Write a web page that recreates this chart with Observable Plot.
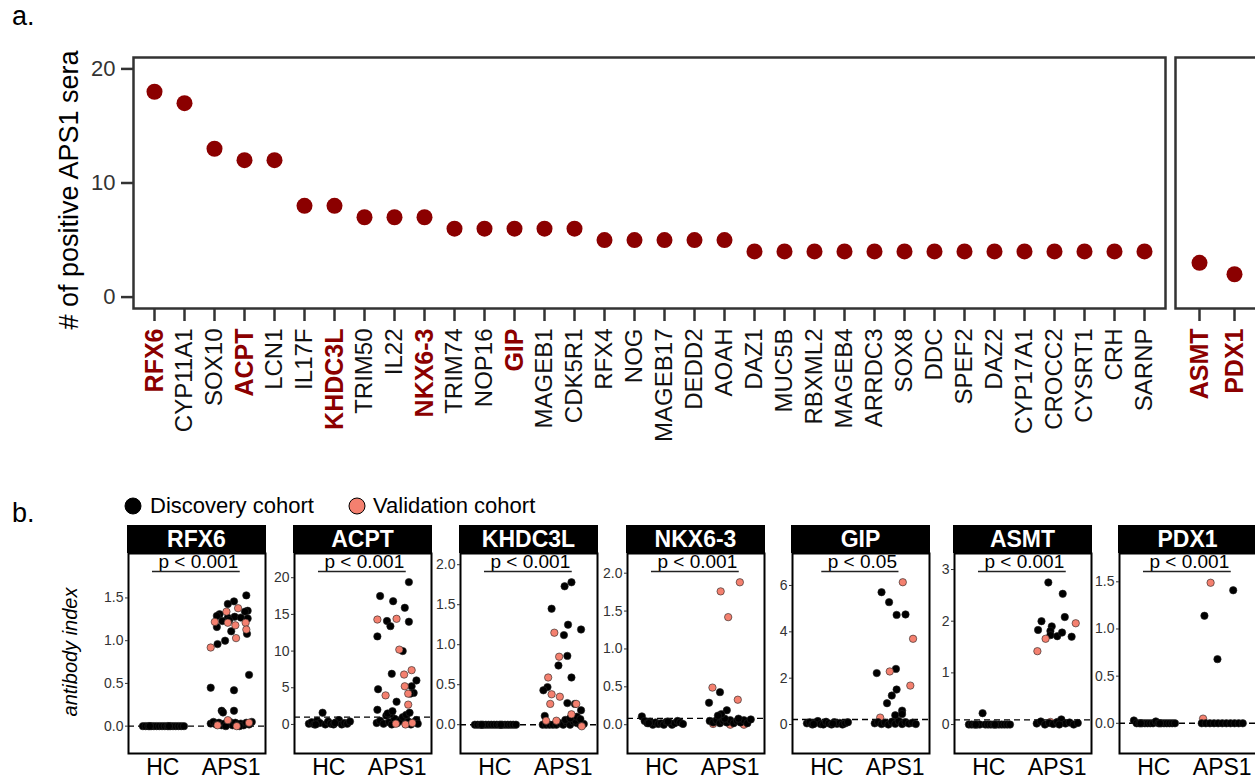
<!DOCTYPE html>
<html><head><meta charset="utf-8">
<script src="https://cdn.jsdelivr.net/npm/d3@7"></script>
<script src="https://cdn.jsdelivr.net/npm/@observablehq/plot@0.6"></script>
<style>
html,body{margin:0;padding:0;background:#fff;}
body{width:1255px;height:782px;overflow:hidden;position:relative;font-family:"Liberation Sans",Arial,sans-serif;}
#root{position:absolute;left:0;top:0;width:1400px;height:782px;}
.abs{position:absolute;white-space:nowrap;}
</style></head><body>
<div id="root"></div>
<script>
// ---------- Panel a data ----------
const mainGenes = ["RFX6","CYP11A1","SOX10","ACPT","LCN1","IL17F","KHDC3L","TRIM50","IL22","NKX6-3","TRIM74","NOP16","GIP","MAGEB1","CDK5R1","RFX4","NOG","MAGEB17","DEDD2","AOAH","DAZ1","MUC5B","RBXML2","MAGEB4","ARRDC3","SOX8","DDC","SPEF2","DAZ2","CYP17A1","CROCC2","CYSRT1","CRH","SARNP"];
const mainCounts = [18,17,13,12,12,8,8,7,7,7,6,6,6,6,6,5,5,5,5,5,4,4,4,4,4,4,4,4,4,4,4,4,4,4];
const sideGenes = ["ASMT","PDX1"];
const sideCounts = [3,2];
const highlighted = ["RFX6","ACPT","KHDC3L","NKX6-3","GIP","ASMT","PDX1"];
const countTicks = [0,10,20];

// ---------- Panel b data ----------
const panelGenes = ["RFX6","ACPT","KHDC3L","NKX6-3","GIP","ASMT","PDX1"];
const pLabels = ["p < 0.001","p < 0.001","p < 0.001","p < 0.001","p < 0.05","p < 0.001","p < 0.001"];
const cutoffs = [0, 1.0, 0, 0.083, 0.22, 0.09, 0.0];
const yTicks = [[0,0.5,1,1.5],[0,5,10,15,20],[0,0.5,1,1.5,2],[0,0.5,1,1.5,2],[0,2,4,6],[0,1,2,3],[0,0.5,1,1.5]];
const yLimits = [[-0.32,2.02],[-3.96,23.3],[-0.36,2.14],[-0.38,2.26],[-1.25,7.38],[-0.56,3.31],[-0.32,1.8]];
const groups = ["HC","APS1"];
const cohorts = ["Discovery cohort","Validation cohort"];

// HC jitter offsets and per-panel HC values
const hcJitter = [-0.29,-0.25,-0.21,-0.17,-0.13,-0.09,-0.05,-0.01,0.03,0.07,0.11,0.15,0.19,0.23,0.27,0.31,-0.19,0.09];
const hcValues = [
  [0,0,0,0,0,0,0,0,0,0,0,0,0,0,0,0,0,0],
  [0.1,0.3,0.0,0.5,0.2,1.6,0.0,0.4,0.1,0.0,0.3,0.6,0.0,0.2,0.1,0.4,0.0,0.2],
  [0,0,0,0,0,0,0,0,0,0,0,0,0,0,0,0,0,0],
  [0.11,0.05,0.02,0.04,0.0,0.03,0.01,0.02,0.0,0.04,0.03,0.0,0.02,0.05,0.03,0.01,0.02,0.04],
  [0.05,0.1,0.0,0.08,0.15,0.02,0.0,0.12,0.05,0.0,0.1,0.03,0.07,0.0,0.05,0.1,0.02,0.04],
  [0,0,0,0,0,0.22,0,0,0,0,0,0,0,0,0,0,0,0],
  [0.03,0,0,0,0,0,0,0,0.02,0,0,0,0,0,0,0,0,0]
];
// APS1 points: [jitter, value, cohort] D = discovery, V = validation
const aps1Points = [
  [ // RFX6
    [-0.3,0.03,"D"],[-0.26,0.05,"D"],[-0.22,0.02,"D"],[-0.18,0.04,"D"],[-0.14,0.01,"D"],[-0.1,0.03,"D"],[-0.06,0.02,"D"],[-0.02,0.05,"D"],[0.02,0.01,"D"],[0.06,0.04,"D"],[0.1,0.02,"D"],[0.14,0.03,"D"],[0.18,0.01,"D"],[0.22,0.04,"D"],[0.26,0.02,"D"],[0.3,0.05,"D"],[-0.08,0.0,"D"],[0.12,0.0,"D"],
    [-0.05,0.07,"V"],[0.08,0.0,"V"],[0.26,0.04,"V"],[-0.2,0.01,"V"],
    [0.22,1.53,"D"],[0.04,1.46,"D"],[-0.05,1.43,"D"],[0.24,1.35,"D"],[0.2,1.34,"D"],[-0.17,1.31,"D"],[-0.21,1.29,"D"],[-0.05,1.27,"D"],[0.05,1.28,"D"],[0.14,1.27,"D"],[0.24,1.26,"D"],[-0.13,1.23,"D"],[-0.03,1.24,"D"],[-0.21,1.16,"D"],[0.0,1.11,"D"],[0.23,1.08,"D"],[-0.09,1.0,"D"],[-0.2,0.96,"D"],[0.26,0.6,"D"],[-0.3,0.45,"D"],[0.04,0.42,"D"],[-0.14,0.18,"D"],[0.04,0.18,"D"],[-0.12,0.16,"D"],
    [0.1,1.38,"V"],[-0.07,1.34,"V"],[-0.24,1.22,"V"],[-0.05,1.21,"V"],[0.06,1.18,"V"],[0.21,1.21,"V"],[0.22,1.13,"V"],[0.07,1.03,"V"],[-0.3,0.92,"V"]
  ],
  [ // ACPT
    [-0.3,0.2,"D"],[-0.25,0.5,"D"],[-0.2,0.1,"D"],[-0.16,1.2,"D"],[-0.12,0.3,"D"],[-0.08,0.0,"D"],[-0.04,0.8,"D"],[0.0,0.2,"D"],[0.04,0.5,"D"],[0.08,1.0,"D"],[0.12,0.1,"D"],[0.16,0.4,"D"],[0.2,0.0,"D"],[0.24,0.3,"D"],[0.28,0.6,"D"],[0.3,0.1,"D"],[-0.1,1.4,"D"],[0.13,1.3,"D"],
    [-0.02,0.1,"V"],[0.12,0.0,"V"],[0.22,0.2,"V"],
    [0.17,19.4,"D"],[-0.25,17.5,"D"],[-0.06,16.8,"D"],[0.11,15.9,"D"],[-0.15,14.1,"D"],[-0.1,13.4,"D"],[0.17,14.0,"D"],[-0.29,12.0,"D"],[0.08,10.0,"D"],[-0.08,6.9,"D"],[0.28,6.0,"D"],[0.21,5.2,"D"],[0.24,4.3,"D"],[0.19,4.2,"D"],[-0.28,4.8,"D"],[-0.01,3.1,"D"],[-0.29,2.0,"D"],[-0.14,1.5,"D"],[0.18,1.6,"D"],[-0.07,1.8,"D"],
    [-0.29,14.3,"V"],[-0.01,14.4,"V"],[0.03,10.2,"V"],[0.21,7.4,"V"],[0.1,6.8,"V"],[0.11,5.2,"V"],[0.16,4.2,"V"],[-0.17,3.96,"V"],[0.16,2.7,"V"]
  ],
  [ // KHDC3L
    [-0.3,0,"D"],[-0.25,0,"D"],[-0.2,0,"D"],[-0.15,0,"D"],[-0.1,0,"D"],[-0.05,0.02,"D"],[0,0,"D"],[0.05,0.03,"D"],[0.1,0,"D"],[0.15,0.04,"D"],[0.2,0.02,"D"],[0.25,0.0,"D"],[0.3,0.01,"D"],[0.03,0.06,"D"],[0.18,0.05,"D"],
    [0.12,1.78,"D"],[0.02,1.73,"D"],[-0.17,1.45,"D"],[0.07,1.25,"D"],[0.26,1.19,"D"],[0.01,1.12,"D"],[0.06,0.86,"D"],[-0.07,0.74,"D"],[0.12,0.59,"D"],[-0.23,0.47,"D"],[-0.29,0.43,"D"],[0.06,0.27,"D"],[0.17,0.26,"D"],[0.26,0.18,"D"],[-0.27,0.11,"D"],[0.1,0.08,"D"],[0.2,0.1,"D"],[0.25,0.07,"D"],
    [-0.13,1.15,"V"],[-0.06,0.85,"V"],[-0.22,0.59,"V"],[-0.17,0.38,"V"],[-0.05,0.35,"V"],[-0.19,0.26,"V"],[0.19,0.26,"V"],[0.12,0.13,"V"],[-0.25,0.05,"V"],[-0.1,0.05,"V"],[0.27,-0.02,"V"]
  ],
  [ // NKX6-3
    [-0.25,0.01,"V"],[0.0,0.0,"V"],[0.2,0.0,"V"],
    [-0.3,0.05,"D"],[-0.25,0.03,"D"],[-0.2,0.06,"D"],[-0.15,0.02,"D"],[-0.1,0.05,"D"],[-0.05,0.03,"D"],[0,0.06,"D"],[0.05,0.02,"D"],[0.1,0.05,"D"],[0.15,0.03,"D"],[0.2,0.06,"D"],[0.25,0.02,"D"],[0.3,0.07,"D"],[-0.08,0.08,"D"],[0.12,0.08,"D"],
    [-0.15,0.43,"D"],[-0.31,0.29,"D"],[-0.05,0.19,"D"],[-0.13,0.14,"D"],[-0.18,0.12,"D"],
    [0.14,1.88,"V"],[-0.14,1.76,"V"],[-0.03,1.42,"V"],[-0.26,0.49,"V"],[0.11,0.33,"V"]
  ],
  [ // GIP
    [-0.22,0.3,"V"],[0.1,0.05,"V"],
    [-0.3,0.05,"D"],[-0.25,0.1,"D"],[-0.2,0.02,"D"],[-0.15,0.08,"D"],[-0.1,0.0,"D"],[-0.05,0.12,"D"],[0,0.03,"D"],[0.05,0.15,"D"],[0.1,0.02,"D"],[0.15,0.1,"D"],[0.2,0.04,"D"],[0.25,0.08,"D"],[0.3,0.02,"D"],
    [-0.2,5.71,"D"],[-0.09,5.28,"D"],[0.02,4.73,"D"],[0.15,4.75,"D"],[-0.27,2.22,"D"],[0.01,2.4,"D"],[0.02,1.51,"D"],[-0.05,1.25,"D"],[-0.12,0.92,"D"],[0.1,0.6,"D"],[0.0,0.4,"D"],[0.1,0.45,"D"],
    [0.11,6.14,"V"],[0.26,3.7,"V"],[-0.08,2.29,"V"],[0.22,1.68,"V"]
  ],
  [ // ASMT
    [-0.1,0.05,"V"],
    [-0.3,0.02,"D"],[-0.24,0.06,"D"],[-0.18,0.0,"D"],[-0.12,0.03,"D"],[-0.06,0.01,"D"],[0,0.05,"D"],[0.06,0.1,"D"],[0.12,0.02,"D"],[0.18,0.04,"D"],[0.24,0.0,"D"],[0.3,0.03,"D"],[0.03,0.0,"D"],
    [-0.13,2.75,"D"],[0.08,2.53,"D"],[0.11,2.08,"D"],[-0.23,2.0,"D"],[-0.28,1.83,"D"],[-0.08,1.9,"D"],[-0.1,1.81,"D"],[-0.1,1.73,"D"],[0.0,1.71,"D"],[0.07,1.78,"D"],[0.21,1.7,"D"],
    [0.27,1.96,"V"],[-0.17,1.66,"V"],[-0.29,1.42,"V"]
  ],
  [ // PDX1
    [-0.28,0.05,"V"],
    [-0.3,0,"D"],[-0.24,0,"D"],[-0.18,0,"D"],[-0.12,0,"D"],[-0.06,0,"D"],[0,0,"D"],[0.06,0,"D"],[0.12,0,"D"],[0.18,0,"D"],[0.24,0,"D"],[0.3,0,"D"],
    [0.16,1.41,"D"],[-0.26,1.14,"D"],[-0.07,0.68,"D"],
    [-0.17,1.49,"V"]
  ]
];

// ---------- styling / layout ----------
const FONT = "'Liberation Sans', Arial, sans-serif";
const DARKRED = "#8B0000";
const SALMON = "#F4806F";
const root = document.getElementById("root");
function place(el, left, top){ el.style.position="absolute"; el.style.left=left+"px"; el.style.top=top+"px"; root.appendChild(el); return el; }
function label(text, left, top, css){ const d=document.createElement("div"); d.className="abs"; d.textContent=text; Object.assign(d.style, css||{}); return place(d,left,top); }
const ctx = document.createElement("canvas").getContext("2d");
function textWidth(text, size){ ctx.font = size+"px 'Liberation Sans', Arial, sans-serif"; return ctx.measureText(text).width; }

// ---------- Panel a ----------
const dataA = mainGenes.map((g,i)=>({gene:g, count:mainCounts[i]}));
const dataA2 = sideGenes.map((g,i)=>({gene:g, count:sideCounts[i]}));
const normalMain = mainGenes.filter(g=>!highlighted.includes(g));
const hiMain = mainGenes.filter(g=>highlighted.includes(g));
const axisOpts = {tickRotate:-90, tickSize:13, tickPadding:7, stroke:"#333", strokeWidth:2.5, label:null};

const plotA = Plot.plot({
  width:1168, height:450, marginLeft:133, marginRight:3, marginTop:57, marginBottom:142,
  style:{fontFamily:FONT, background:"transparent", overflow:"visible"},
  x:{type:"point", domain:mainGenes, padding:0.5},
  y:{domain:[-1,21]},
  marks:[
    Plot.frame({stroke:"#333", strokeWidth:2.5}),
    Plot.axisY({ticks:countTicks, tickSize:12, tickPadding:6, fontSize:22, fill:"#333", stroke:"#333", strokeWidth:2.5, label:null}),
    Plot.axisX(normalMain, {...axisOpts, fontSize:24, fill:"#111"}),
    Plot.axisX(hiMain, {...axisOpts, fontSize:25, fill:DARKRED, fontWeight:"bold"}),
    Plot.dot(dataA, {x:"gene", y:"count", r:8, fill:DARKRED})
  ]
});
place(plotA, 0, 0);

const plotA2 = Plot.plot({
  width:86, height:450, marginLeft:2, marginRight:2, marginTop:57, marginBottom:142,
  style:{fontFamily:FONT, background:"transparent", overflow:"visible"},
  x:{type:"point", domain:sideGenes, padding:0.667},
  y:{domain:[-1,21], axis:null},
  marks:[
    Plot.frame({stroke:"#333", strokeWidth:2.5}),
    Plot.axisX(sideGenes, {...axisOpts, fontSize:25, fill:DARKRED, fontWeight:"bold"}),
    Plot.dot(dataA2, {x:"gene", y:"count", r:8, fill:DARKRED})
  ]
});
place(plotA2, 1173, 0);

label("a.", 12, 0, {fontSize:"27px", lineHeight:"32px", color:"#000"});
label("# of positive APS1 sera", 69, 190, {fontSize:"27px", color:"#000", transform:"translate(-50%,-50%) rotate(-90deg)"});

// ---------- Panel b ----------
label("b.", 12, 497, {fontSize:"27px", lineHeight:"32px", color:"#000"});
label("antibody index", 70, 652, {fontSize:"20px", fontStyle:"italic", color:"#000", transform:"translate(-50%,-50%) rotate(-90deg)"});

// legend
function legendDot(cx, cy, fill){
  const s = d3.create("svg").attr("width",20).attr("height",20);
  s.append("circle").attr("cx",10).attr("cy",10).attr("r",8).attr("fill",fill).attr("stroke","#000").attr("stroke-width",1);
  return place(s.node(), cx-10, cy-10);
}
legendDot(133, 506, "#000");
label(cohorts[0], 150, 493, {fontSize:"22px", lineHeight:"26px", color:"#000"});
legendDot(357, 506, SALMON);
label(cohorts[1], 373, 493, {fontSize:"22px", lineHeight:"26px", color:"#000"});

const facetLefts = [128, 294, 460, 627, 792, 954, 1119];
const FRAME_W = 137, FRAME_H = 200, PFONT = 19, PX = 1.52;
panelGenes.forEach((gene, i) => {
  const left = facetLefts[i];
  const pts = [
    ...hcValues[i].map((v,k)=>({x:1+hcJitter[k], y:v, c:"D"})),
    ...aps1Points[i].map(([j,v,c])=>({x:2+j, y:v, c}))
  ];
  const decimals = yTicks[i].some(t=>t%1!==0);
  const fmt = decimals ? d3.format(".1f") : d3.format("d");
  // underline of the p-value, derived from the text's measured width
  const pxPerX = FRAME_W/2;
  const w = textWidth(pLabels[i], PFONT);
  const [y0, y1] = yLimits[i];
  const yLine = y1 - 18*(y1-y0)/FRAME_H;
  const underline = [{x1: PX - (w/2+6)/pxPerX, x2: PX + (w/2+2)/pxPerX, y: yLine}];
  const svg = Plot.plot({
    width:32+FRAME_W+3, height:231, marginLeft:32, marginRight:3, marginTop:2, marginBottom:29,
    style:{fontFamily:FONT, background:"transparent", overflow:"visible"},
    x:{domain:[0.5,2.5]},
    y:{domain:yLimits[i]},
    color:{type:"identity"},
    marks:[
      Plot.ruleY([cutoffs[i]], {stroke:"#000", strokeWidth:1.4, strokeDasharray:"6,4"}),
      Plot.dot(pts, {x:"x", y:"y", r:3.7, fill:d=>d.c==="V"?SALMON:"#000", stroke:"#222", strokeWidth:0.6}),
      Plot.frame({stroke:"#000", strokeWidth:2}),
      Plot.axisY({ticks:yTicks[i], tickFormat:fmt, tickSize:3, tickPadding:2, fontSize:14, fill:"#333", stroke:"#333", label:null}),
      Plot.axisX({ticks:[1,2], tickFormat:d=>groups[d-1], tickSize:0, tickPadding:5, fontSize:23, fill:"#000", label:null}),
      Plot.text([pLabels[i]], {x:PX, frameAnchor:"top", lineAnchor:"middle", dy:8, fontSize:PFONT, fill:"#000"}),
      Plot.ruleY(underline, {x1:"x1", x2:"x2", y:"y", stroke:"#222", strokeWidth:1.5})
    ]
  });
  place(svg, left-32, 551);
  label(gene, left-1, 525, {width:(FRAME_W+2)+"px", height:"28px", lineHeight:"28px", background:"#000", color:"#fff", fontWeight:"bold", fontSize:"23px", textAlign:"center"});
});
</script>
</body></html>
